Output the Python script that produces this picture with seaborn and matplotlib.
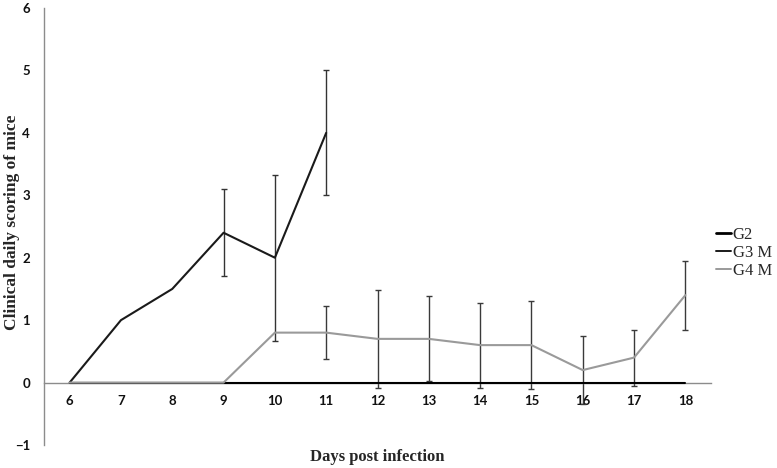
import matplotlib
matplotlib.use('Agg')
import matplotlib.pyplot as plt
from matplotlib.lines import Line2D
import pandas as pd
import seaborn as sns

days = [6, 7, 8, 9, 10, 11, 12, 13, 14, 15, 16, 17, 18]

g2_days = days
g2_score = [0, 0, 0, 0, 0, 0, 0, 0, 0, 0, 0, 0, 0]

g3_days = [6, 7, 8, 9, 10, 11]
g3_score = [0, 1, 1.5, 2.4, 2.0, 4.0]
g3_err = [0, 0, 0, 0.7, 1.33, 1.0]

g4_days = days
g4_score = [0, 0, 0, 0, 0.8, 0.8, 0.7, 0.7, 0.6, 0.6, 0.2, 0.4, 1.4]
g4_err = [0, 0, 0, 0, 0, 0.42, 0.78, 0.68, 0.68, 0.7, 0.55, 0.45, 0.55]

df = pd.concat([
    pd.DataFrame({'day': g2_days, 'score': g2_score, 'group': 'G2'}),
    pd.DataFrame({'day': g3_days, 'score': g3_score, 'group': 'G3 M'}),
    pd.DataFrame({'day': g4_days, 'score': g4_score, 'group': 'G4 M'}),
])

sns.set_style('white')
plt.rcParams['font.family'] = ['Liberation Serif', 'DejaVu Serif']

fig = plt.figure(figsize=(7.77, 4.68), dpi=100)
ax = fig.add_axes([44 / 777, 23 / 468, (711 - 44) / 777, (445 - 8) / 468])


def err_bars(x, y, e, color):
    # only points that actually have an error value get a bar
    pts = [(a, b, c) for a, b, c in zip(x, y, e) if c > 0]
    ax.errorbar([p[0] for p in pts], [p[1] for p in pts], yerr=[p[2] for p in pts],
                fmt='none', ecolor=color, elinewidth=1.0, capsize=2, capthick=1.0,
                zorder=2)


err_bars(g3_days, g3_score, g3_err, '#333333')
err_bars(g4_days, g4_score, g4_err, '#3a3a3a')

pal = {'G2': '#000000', 'G3 M': '#1a1a1a', 'G4 M': '#9a9a9a'}
sns.lineplot(data=df, x='day', y='score', hue='group', palette=pal, ax=ax,
             legend=False, zorder=3)
lines = ax.get_lines()
lines[0].set_linewidth(2.6)
lines[1].set_linewidth(1.6)
lines[2].set_linewidth(1.6)

ax.set_xlim(5.5, 18.5)
ax.set_ylim(-1, 6)

ax.spines['top'].set_visible(False)
ax.spines['right'].set_visible(False)
ax.spines['left'].set_color('#8c8c8c')
ax.spines['bottom'].set_position(('data', 0))
ax.spines['bottom'].set_color('#8c8c8c')
for s in ['left', 'bottom']:
    ax.spines[s].set_linewidth(1.0)

ax.set_xticks(days)
ax.set_xticks([d + 0.5 for d in [5] + days], minor=True)
ax.tick_params(axis='x', which='major', length=0, pad=9)
ax.tick_params(axis='x', which='minor', length=4, direction='out', color='#8c8c8c')
ax.set_yticks(range(-1, 7))
ax.tick_params(axis='y', length=4, direction='out', color='#8c8c8c', pad=6)
for lab in ax.get_xticklabels() + ax.get_yticklabels():
    lab.set_fontfamily('Lato')
    lab.set_fontweight('bold')
    lab.set_fontsize(9.5)
    lab.set_color('#111111')

ax.set_xlabel('')
ax.set_ylabel('')
fig.text(377 / 777, 1 - 457 / 468, 'Days post infection', ha='center', va='center',
         fontsize=12, fontweight='bold')
fig.text(12 / 777, 1 - 222 / 468, 'Clinical daily scoring of mice', ha='center',
         va='center', rotation=90, fontsize=12.5, fontweight='bold')

handles = [Line2D([], [], color=pal['G2'], lw=2.0),
           Line2D([], [], color=pal['G3 M'], lw=1.4),
           Line2D([], [], color=pal['G4 M'], lw=1.4)]
fig.legend(handles, ['G2', 'G3 M', 'G4 M'], loc='center left',
           bbox_to_anchor=(716 / 777, 1 - 253 / 468), frameon=False,
           fontsize=12, handlelength=0.9, handletextpad=0.1,
           labelspacing=0.12, borderpad=0, borderaxespad=0)

plt.savefig('out.png', dpi=100)
